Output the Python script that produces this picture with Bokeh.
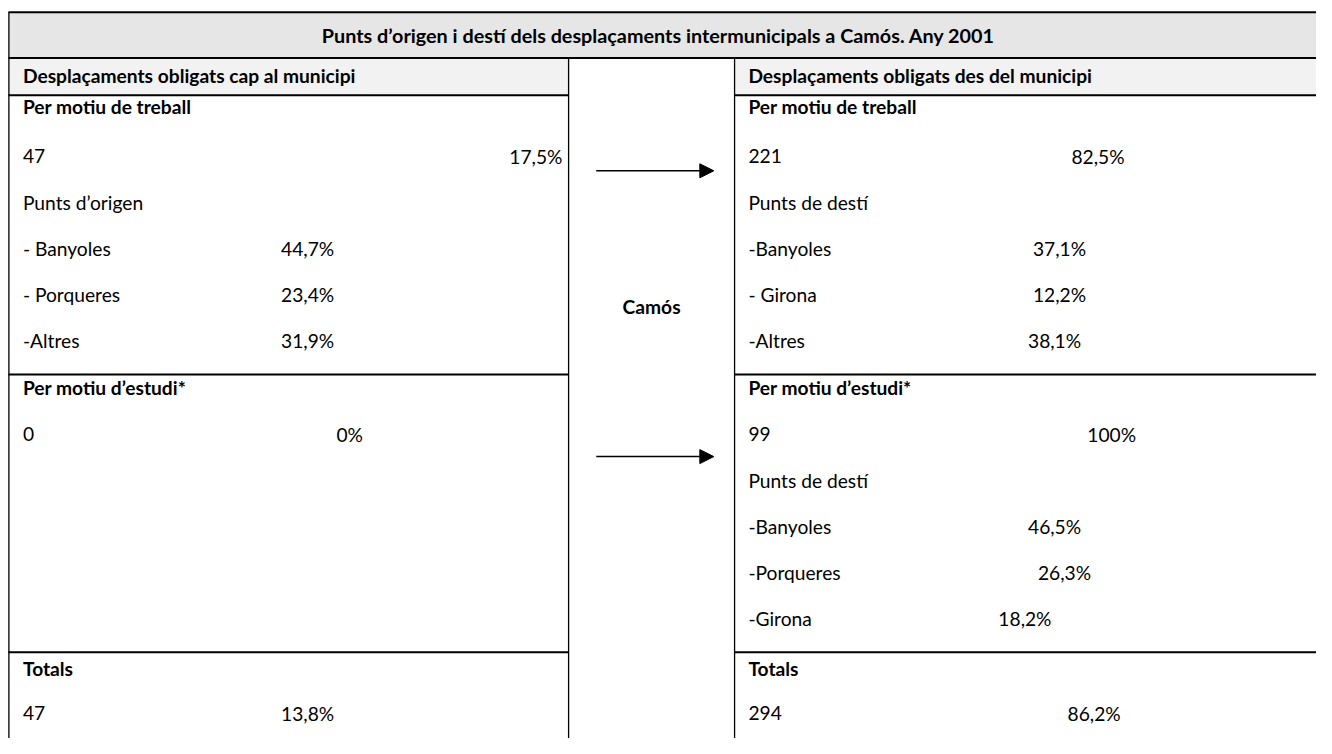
from bokeh.plotting import figure
from bokeh.models import Range1d, Arrow, NormalHead, ColumnDataSource
from bokeh.core.properties import value
from bokeh.embed import file_html
from bokeh.resources import INLINE

# ---------------- data ----------------
title = "Punts d’origen i destí dels desplaçaments intermunicipals a Camós. Any 2001"
center_label = "Camós"
header_in = "Desplaçaments obligats cap al municipi"
header_out = "Desplaçaments obligats des del municipi"

in_work_total = 47
in_work_pct = 17.5
in_work_places = ["- Banyoles", "- Porqueres", "-Altres"]
in_work_place_pcts = [44.7, 23.4, 31.9]
in_study_total = 0
in_study_pct = 0
in_totals = 47
in_totals_pct = 13.8

out_work_total = 221
out_work_pct = 82.5
out_work_places = ["-Banyoles", "- Girona", "-Altres"]
out_work_place_pcts = [37.1, 12.2, 38.1]
out_study_total = 99
out_study_pct = 100
out_study_places = ["-Banyoles", "-Porqueres", "-Girona"]
out_study_place_pcts = [46.5, 26.3, 18.2]
out_totals = 294
out_totals_pct = 86.2


def fmt(v):
    if float(v).is_integer():
        return f"{int(v)}%"
    return f"{v:.1f}".replace(".", ",") + "%"


# ---------------- layout ----------------
W, H = 1316, 738
FONT = "Lato"
FST = "19.8px"
FSB = "19.2px"
FSR = "19.2px"

p = figure(width=W, height=H, output_backend="svg", toolbar_location=None,
           x_range=Range1d(0, 1332), y_range=Range1d(754, 0),
           x_axis_location=None, y_axis_location=None, min_border=0)
p.grid.visible = False
p.outline_line_color = None
p.background_fill_color = "white"
p.border_fill_color = "white"

XL, XM1, XM2, XR = 8, 575, 743, 1340
Y_TOP, Y_T, Y_H, Y_S, Y_TOT, Y_BOT = 12, 58.7, 96.7, 382, 666, 770

# fills
p.quad(left=[XL], right=[XR], top=[Y_TOP], bottom=[Y_T], fill_color="#e6e6e6", line_color=None)
p.quad(left=[XL, XM2], right=[XM1, XR], top=[Y_T, Y_T], bottom=[Y_H, Y_H],
       fill_color="#f2f2f2", line_color=None)

# horizontal rules
p.segment(x0=[XL, XL], x1=[XR, XR], y0=[Y_TOP, Y_T], y1=[Y_TOP, Y_T], line_color="black", line_width=2)
p.segment(x0=[XL, XM2, XL, XM2, XL, XM2], x1=[XM1, XR, XM1, XR, XM1, XR],
          y0=[Y_H, Y_H, Y_S, Y_S, Y_TOT, Y_TOT], y1=[Y_H, Y_H, Y_S, Y_S, Y_TOT, Y_TOT],
          line_color="black", line_width=2)
# vertical rules
p.segment(x0=[XL + 0.5], x1=[XL + 0.5], y0=[Y_TOP], y1=[Y_BOT], line_color="black", line_width=1.3)
p.segment(x0=[XM1, XM2], x1=[XM1, XM2], y0=[Y_T, Y_T], y1=[Y_BOT, Y_BOT], line_color="black", line_width=1.3)

# arrows
for ya in (174, 466):
    p.add_layout(Arrow(end=NormalHead(size=14, fill_color="black", line_color="black"),
                       x_start=603, x_end=722, y_start=ya, y_end=ya,
                       line_color="black", line_width=1.5))

# texts
bold_x, bold_y, bold_t, bold_align = [], [], [], []
reg_x, reg_y, reg_t = [], [], []


def b(x, y, t, align="left"):
    bold_x.append(x); bold_y.append(y); bold_t.append(t); bold_align.append(align)


def r(x, y, t):
    reg_x.append(x); reg_y.append(y); reg_t.append(t)


b(659, 313, center_label, "center")
b(22.7, 77, header_in)
b(757, 77, header_out)

LX, RX = 22.7, 757
rows = [108, 159, 206, 253, 300, 347]

# left block
b(LX, rows[0], "Per motiu de treball")
r(LX, rows[1], str(in_work_total)); r(515, rows[1], fmt(in_work_pct))
r(LX, rows[2], "Punts d’origen")
for i, (name, v) in enumerate(zip(in_work_places, in_work_place_pcts)):
    r(LX, rows[3 + i], name); r(284, rows[3 + i], fmt(v))
b(LX, 395, "Per motiu d’estudi*")
r(LX, 443, str(in_study_total)); r(340, 443, fmt(in_study_pct))
b(LX, 682, "Totals")
r(LX, 728, str(in_totals)); r(284, 728, fmt(in_totals_pct))

# right block
b(RX, rows[0], "Per motiu de treball")
r(RX, rows[1], str(out_work_total)); r(1084, rows[1], fmt(out_work_pct))
r(RX, rows[2], "Punts de destí")
for i, (name, v, px) in enumerate(zip(out_work_places, out_work_place_pcts, [1045, 1045, 1040])):
    r(RX, rows[3 + i], name); r(px, rows[3 + i], fmt(v))
b(RX, 395, "Per motiu d’estudi*")
r(RX, 443, str(out_study_total)); r(1100, 443, fmt(out_study_pct))
r(RX, 490, "Punts de destí")
for i, (name, v, px) in enumerate(zip(out_study_places, out_study_place_pcts, [1040, 1050, 1010])):
    r(RX, 537 + 47 * i, name); r(px, 537 + 47 * i, fmt(v))
b(RX, 682, "Totals")
r(RX, 728, str(out_totals)); r(1080, 728, fmt(out_totals_pct))

p.text(x=[666], y=[35], text=[title], text_align="center", text_baseline="middle",
       text_font=value(FONT), text_font_style="bold", text_font_size=FST, text_color="black")
src_b = ColumnDataSource(dict(x=bold_x, y=bold_y, t=bold_t, a=bold_align))
p.text(x="x", y="y", text="t", text_align="a", source=src_b, text_baseline="middle",
       text_font=value(FONT), text_font_style="bold", text_font_size=FSB, text_color="black")
src_r = ColumnDataSource(dict(x=reg_x, y=reg_y, t=reg_t))
p.text(x="x", y="y", text="t", source=src_r, text_baseline="middle", text_align="left",
       text_font=value(FONT), text_font_size=FSR, text_color="black")

open("out.html", "w").write(file_html(p, INLINE))
